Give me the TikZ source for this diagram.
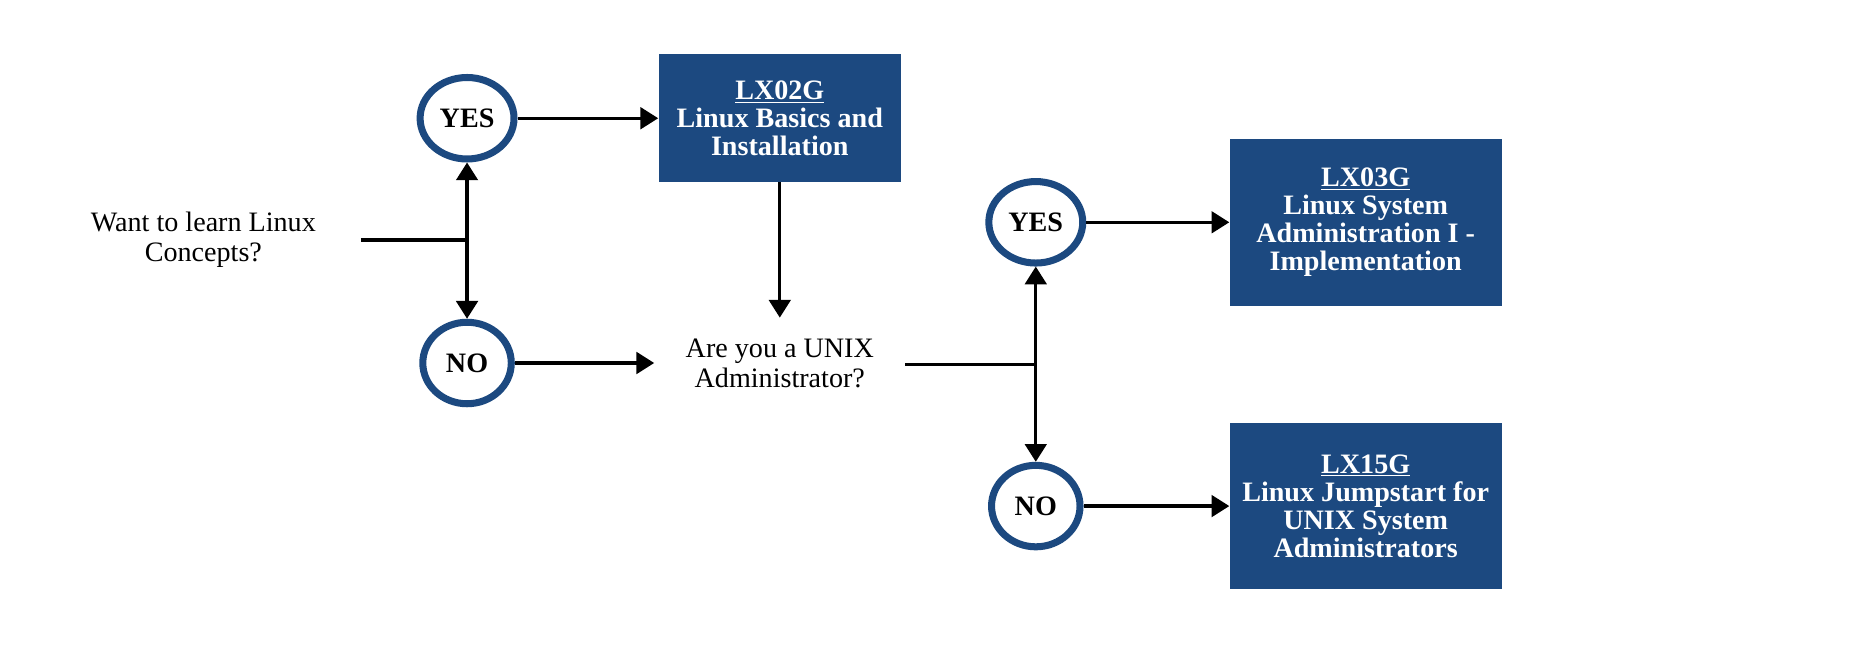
\documentclass[tikz,border=0pt]{standalone}
\usepackage{fontspec}
\setmainfont{Liberation Serif}
\usetikzlibrary{arrows.meta,shapes.geometric}
\definecolor{navy}{RGB}{28,73,128}
\begin{document}
\begin{tikzpicture}[x=0.023648cm, y=-0.023648cm,
    every node/.style={font=\fontsize{16}{17}\selectfont},
    answer/.style={ellipse, draw=navy, line width=4pt, fill=white,
                   minimum width=1.77cm, minimum height=1.63cm, font=\fontsize{16}{17}\selectfont\bfseries},
    course/.style={rectangle, fill=navy, text=white, align=center,
                   font=\fontsize{16}{16}\selectfont\bfseries},
    question/.style={align=center, inner sep=0pt},
    arr/.style={line width=1.9pt, -{Triangle[length=0.355cm,width=0.43cm]}}]
    \useasboundingbox (0, 0) rectangle (1568, 567.5);
    \node[question, minimum width=6.29cm] (learn) at (172, 203) {Want to learn Linux\\Concepts?};
    \node[answer] (yes1) at (395, 100) {YES};
    \node[answer] (no1) at (395, 307) {NO};
    \node[course, minimum width=4.85cm, minimum height=2.55cm] (lx02) at (659.5, 100)
          {\underline{LX02G}\\Linux Basics and\\Installation};
    \node[question, minimum width=5.01cm, minimum height=1.8cm] (unix) at (659.5, 307)
          {Are you a UNIX\\Administrator?};
    \node[answer] (yes2) at (876, 188) {YES};
    \node[answer] (no2) at (876, 428) {NO};
    \node[course, minimum width=5.44cm, minimum height=3.33cm] (lx03) at (1155, 188)
          {\underline{LX03G}\\Linux System\\Administration I -\\Implementation};
    \node[course, minimum width=5.44cm, minimum height=3.33cm] (lx15) at (1155, 428)
          {\underline{LX15G}\\Linux Jumpstart for\\UNIX System\\Administrators};
    \coordinate (split1) at (395, 203);
    \coordinate (split2) at (876, 308);
    % first question
    \draw[line width=1.9pt] (learn.east) -- (split1);
    \draw[arr] (split1) -- (yes1);
    \draw[arr] (split1) -- (no1);
    \draw[arr] (yes1) -- (lx02);
    \draw[arr] (no1) -- (unix);
    \draw[arr] (lx02) -- (unix);
    % second question
    \draw[line width=1.9pt] (unix.east |- split2) -- (split2);
    \draw[arr] (split2) -- (yes2);
    \draw[arr] (split2) -- (no2);
    \draw[arr] (yes2) -- (lx03);
    \draw[arr] (no2) -- (lx15);
\end{tikzpicture}
\end{document}
